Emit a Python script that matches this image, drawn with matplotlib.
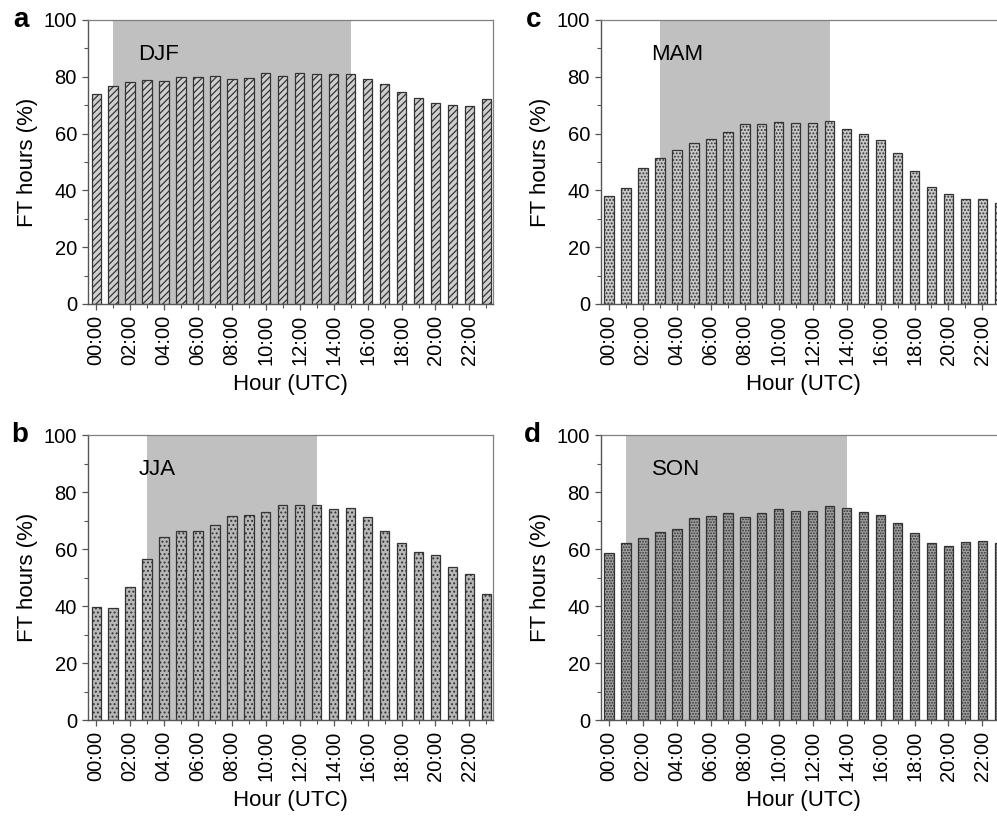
import numpy as np
import matplotlib
matplotlib.use("Agg")
import matplotlib.pyplot as plt
from matplotlib.ticker import MultipleLocator

plt.rcParams['font.family'] = ['Liberation Sans', 'DejaVu Sans']
plt.rcParams['hatch.linewidth'] = 0.9

hours = np.arange(24)
hour_labels = ['%02d:00' % h for h in range(0, 24, 2)]

# Seasonal share of free-troposphere hours (%) per UTC hour
djf = [73.8, 76.6, 78.3, 79.0, 78.6, 79.8, 79.8, 80.3, 79.2, 79.6, 81.3, 80.4,
       81.4, 81.0, 81.0, 81.0, 79.2, 77.4, 74.8, 72.4, 70.6, 70.0, 69.6, 72.0]
jja = [39.6, 39.3, 46.7, 56.5, 64.2, 66.4, 66.4, 68.5, 71.5, 72.0, 72.9, 75.3,
       75.6, 75.5, 74.1, 74.3, 71.2, 66.2, 62.2, 58.9, 57.9, 53.8, 51.3, 44.1]
mam = [38.0, 40.8, 47.8, 51.3, 54.1, 56.6, 58.1, 60.4, 63.3, 63.5, 64.0, 63.7,
       63.7, 64.3, 61.6, 59.9, 57.7, 53.2, 46.9, 41.3, 38.7, 36.8, 36.8, 35.5]
son = [58.7, 62.0, 64.0, 66.0, 66.9, 70.8, 71.7, 72.6, 71.2, 72.6, 74.1, 73.3,
       73.3, 75.1, 74.3, 72.9, 72.1, 69.2, 65.7, 62.2, 60.9, 62.5, 62.7, 62.0]

# panel letter, season, values, shaded hour span, hatch, bar face
panels = [
    ('a', 'DJF', djf, (1, 15), '/////', '#cfcfcf'),
    ('b', 'JJA', jja, (3, 13), '....', '#b8b8b8'),
    ('c', 'MAM', mam, (3, 13), '.....', '#c8c8c8'),
    ('d', 'SON', son, (1, 14), '......', '#a0a0a0'),
]
positions = [
    [0.0883, 0.6284, 0.406, 0.3472],
    [0.0883, 0.1198, 0.406, 0.3484],
    [0.6028, 0.6284, 0.406, 0.3472],
    [0.6028, 0.1198, 0.406, 0.3484],
]

fig = plt.figure(figsize=(9.97, 8.18), dpi=100)

for (letter, season, vals, span, hatch, face), pos in zip(panels, positions):
    ax = fig.add_axes(pos)
    ax.axvspan(span[0], span[1], ymin=0, ymax=1, color='#c0c0c0', lw=0, zorder=0)
    ax.bar(hours, vals, width=0.55, color=face, edgecolor='#333333',
           linewidth=0.9, hatch=hatch, zorder=2)
    ax.set_xlim(-0.48, 23.38)
    ax.set_ylim(0, 100)
    ax.yaxis.set_major_locator(MultipleLocator(20))
    ax.yaxis.set_minor_locator(MultipleLocator(10))
    ax.set_xticks(range(0, 24, 2))
    ax.set_xticklabels(hour_labels, rotation=90)
    ax.set_xticks(range(1, 24, 2), minor=True)
    ax.tick_params(axis='both', which='major', labelsize=14.5, length=4,
                   width=0.9, color='#555555', direction='out')
    ax.tick_params(axis='both', which='minor', length=3, width=0.8,
                   color='#555555', direction='out')
    ax.tick_params(axis='y', pad=4)
    ax.tick_params(axis='x', pad=4)
    for side in ['top', 'right']:
        ax.spines[side].set_color('#808080')
        ax.spines[side].set_linewidth(0.9)
    for side in ['left', 'bottom']:
        ax.spines[side].set_color('#555555')
        ax.spines[side].set_linewidth(1.0)
    ax.set_ylabel('FT hours (%)', fontsize=16, labelpad=4)
    ax.set_xlabel('Hour (UTC)', fontsize=16, labelpad=6)
    ax.text(2.5, 88, season, fontsize=16, ha='left', va='center', zorder=3)
    ax.text(-0.148, 1.0, letter, transform=ax.transAxes, fontsize=20,
            fontweight='bold', ha='right', va='center')

fig.savefig('out.png', dpi=100)
